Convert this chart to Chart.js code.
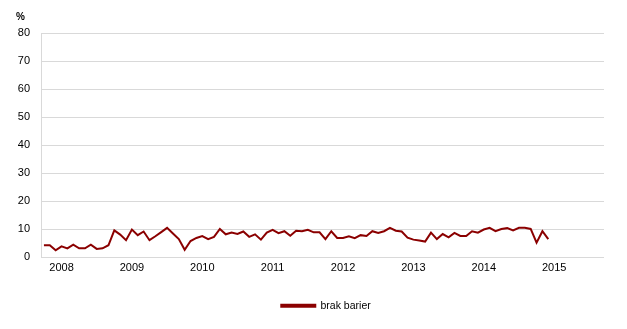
<!DOCTYPE html>
<html>
<head>
<meta charset="utf-8">
<script src="https://cdn.jsdelivr.net/npm/chart.js@4"></script>
<style>
  body { margin: 0; background: #fff; }
  #wrap { width: 627px; height: 329px; }
</style>
</head>
<body>
<div id="wrap"><canvas id="chart"></canvas></div>
<script>
// monthly series, Oct 2007 - Dec 2014
const seriesName = "brak barier"
const years = ["2008", "2009", "2010", "2011", "2012", "2013", "2014", "2015"]
const yTicks = [0, 10, 20, 30, 40, 50, 60, 70, 80]
const noBarriers = [
  4.3, 4.3, 2.5,
  3.9, 3.2, 4.5, 3.2, 3.2, 4.5, 3.0, 3.2, 4.3, 9.6, 8.1, 6.1,
  9.9, 7.9, 9.2, 6.1, 7.5, 9.0, 10.5, 8.5, 6.5, 2.7, 5.8, 6.9,
  7.6, 6.5, 7.3, 10.1, 8.2, 8.8, 8.3, 9.2, 7.3, 8.2, 6.3, 8.8,
  9.8, 8.6, 9.3, 7.7, 9.5, 9.3, 9.8, 8.9, 8.9, 6.5, 9.3, 6.9,
  6.9, 7.5, 6.8, 7.9, 7.6, 9.3, 8.7, 9.3, 10.5, 9.5, 9.2, 7.0,
  6.3, 6.0, 5.6, 8.8, 6.5, 8.3, 7.1, 8.7, 7.6, 7.6, 9.3, 8.8,
  9.9, 10.5, 9.3, 10.1, 10.4, 9.6, 10.5, 10.5, 10.1, 5.2, 9.3, 6.5
]

// categories: one per month from Oct 2007 to Sep 2015, year shown at January
const categories = []
for (let i = 0; i < 96; i++) {
  const month = (9 + i) % 12
  const yearIdx = Math.floor((9 + i) / 12) - 1
  categories.push(month === 0 ? years[yearIdx] : "")
}

const lineColor = "#8b0000"
const fontFamily = "'Liberation Sans', Arial, sans-serif"

const percentLabel = {
  id: "percentLabel",
  afterDraw(chart) {
    const ctx = chart.ctx
    ctx.save()
    ctx.font = "bold 10px " + fontFamily
    ctx.fillStyle = "#000"
    ctx.textBaseline = "middle"
    ctx.fillText("%", 16, 17)
    ctx.restore()
  }
}

// legend in the original sits a bit right of the canvas centre
const legendShift = {
  id: "legendShift",
  afterLayout(chart) {
    chart.legend.left += 24
    chart.legend.right += 24
  }
}

new Chart(document.getElementById("chart"), {
  type: "line",
  data: {
    labels: categories,
    datasets: [{
      label: seriesName,
      data: noBarriers,
      borderColor: lineColor,
      backgroundColor: lineColor,
      borderWidth: 2,
      pointRadius: 0,
      tension: 0,
      fill: false
    }]
  },
  options: {
    responsive: true,
    maintainAspectRatio: false,
    animation: false,
    layout: { padding: { top: 33, right: 23, bottom: 8, left: 0 } },
    plugins: {
      legend: {
        position: "bottom",
        labels: {
          boxWidth: 34,
          boxHeight: 2,
          color: "#000",
          font: { family: fontFamily, size: 10.5 },
          padding: 22
        }
      },
      tooltip: { enabled: false }
    },
    scales: {
      x: {
        type: "category",
        offset: true,
        grid: { display: false, drawTicks: false },
        border: { display: false },
        ticks: {
          autoSkip: false,
          maxRotation: 0,
          minRotation: 0,
          padding: 4,
          color: "#000",
          font: { family: fontFamily, size: 11 }
        }
      },
      y: {
        min: 0,
        max: 80,
        afterBuildTicks(scale) {
          scale.ticks = yTicks.map(v => ({ value: v }))
        },
        afterFit(scale) {
          scale.width = 41
        },
        grid: { color: "#d9d9d9", drawTicks: false, lineWidth: 1 },
        border: { color: "#d9d9d9" },
        ticks: {
          padding: 11,
          color: "#000",
          font: { family: fontFamily, size: 11 }
        }
      }
    }
  },
  plugins: [percentLabel, legendShift]
})
</script>
</body>
</html>
